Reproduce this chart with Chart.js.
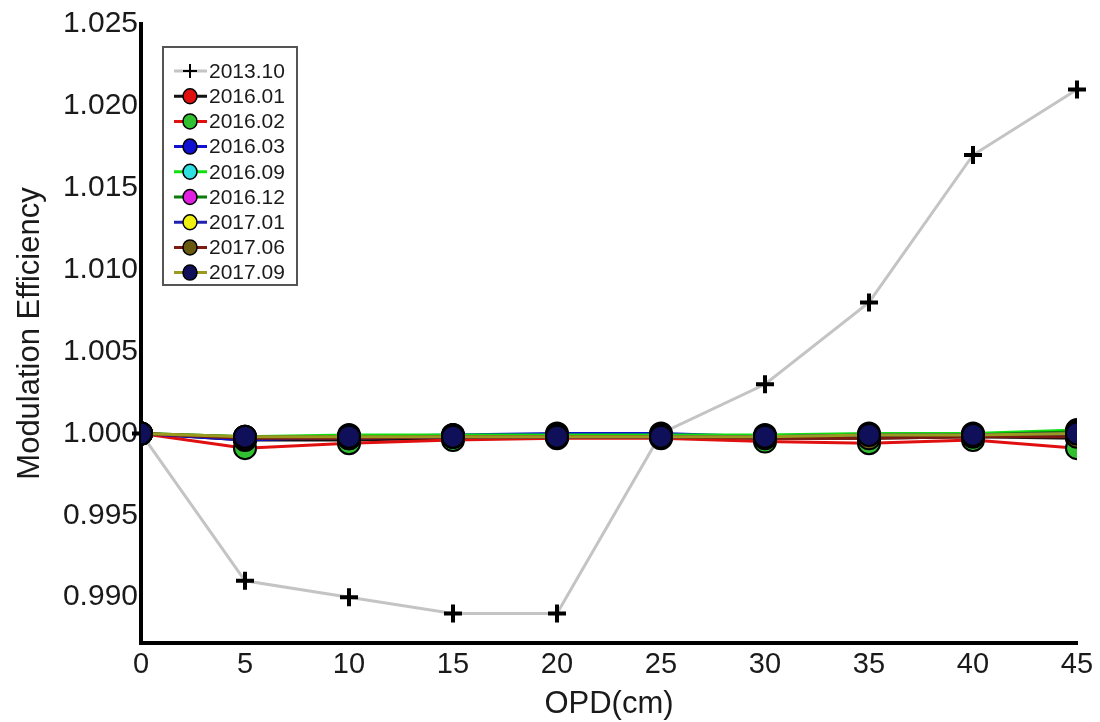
<!DOCTYPE html>
<html>
<head>
<meta charset="utf-8">
<script src="https://cdn.jsdelivr.net/npm/chart.js@4.4.1/dist/chart.umd.min.js"></script>
<style>
  body { margin: 0; background: #fff; }
  #wrap { width: 1100px; height: 722px; }
</style>
</head>
<body>
<div id="wrap"><canvas id="meChart" width="1100" height="722"></canvas></div>
<script>
// OPD positions (cm) and y tick labels
const opd = [0, 5, 10, 15, 20, 25, 30, 35, 40, 45];
const yTickValues = [0.990, 0.995, 1.000, 1.005, 1.010, 1.015, 1.020, 1.025];

const me201310 = [1.0000, 0.9910, 0.9900, 0.9890, 0.9890, 1.0000, 1.0030, 1.0080, 1.0170, 1.0210];
const me201601 = [1.0000, 0.9996, 0.9996, 0.9997, 0.9998, 0.9998, 0.9997, 0.9997, 0.9998, 0.9997];
const me201602 = [1.0000, 0.9991, 0.9994, 0.9996, 0.9997, 0.9997, 0.9995, 0.9994, 0.9996, 0.9991];
const me201603 = [1.0000, 0.9996, 0.9998, 0.9999, 1.0000, 1.0000, 0.9998, 0.9998, 0.9999, 0.9999];
const me201609 = [1.0000, 0.9998, 0.9999, 0.9999, 0.9999, 0.9999, 0.9999, 1.0000, 1.0000, 1.0002];
const me201612 = [1.0000, 0.9998, 0.9998, 0.9998, 0.9998, 0.9998, 0.9998, 0.9998, 0.9999, 1.0001];
const me201701 = [1.0000, 0.9997, 0.9997, 0.9998, 0.9998, 0.9998, 0.9998, 0.9999, 0.9999, 1.0000];
const me201706 = [1.0000, 0.9997, 0.9997, 0.9998, 0.9998, 0.9998, 0.9997, 0.9997, 0.9998, 0.9998];
const me201709 = [1.0000, 0.9998, 0.9998, 0.9998, 0.9998, 0.9998, 0.9998, 0.9999, 0.9999, 1.0000];

const seriesNames = ['2013.10', '2016.01', '2016.02', '2016.03', '2016.09', '2016.12', '2017.01', '2017.06', '2017.09'];
const seriesValues = [me201310, me201601, me201602, me201603, me201609, me201612, me201701, me201706, me201709];

// styles: line colour and marker fill for each series
const lineColors = ['#c4c4c4', '#111111', '#e01010', '#1010d0', '#10e010', '#0a7a0a', '#2020b0', '#7a1a10', '#9a9a20'];
const markerColors = ['#000000', '#e01010', '#30c030', '#1010d0', '#30e0e0', '#e020e0', '#f0f010', '#6a5a10', '#10105a'];

const FONT = '"Liberation Sans", Arial, sans-serif';
const TEXT = '#1a1a1a';

const datasets = seriesNames.map((name, i) => {
    const isRef = i === 0;
    return {
        label: name,
        data: seriesValues[i],
        borderColor: lineColors[i],
        borderWidth: 3,
        pointStyle: isRef ? 'cross' : 'circle',
        pointRadius: isRef ? 9 : 11,
        pointBackgroundColor: markerColors[i],
        pointBorderColor: '#000',
        pointBorderWidth: isRef ? 4 : 2,
        tension: 0,
        fill: false,
        clip: isRef ? false : 0,
        order: seriesNames.length - i, // 2013.10 at the bottom, 2017.09 on top
    };
});

// legend box in the upper-left of the plot: line segment + marker + label
const boxLegend = {
    id: 'boxLegend',
    afterDraw(chart) {
        const ctx = chart.ctx;
        const x0 = 163, y0 = 47, w = 134, h = 238, step = 25.2;
        ctx.save();
        ctx.fillStyle = '#fff';
        ctx.fillRect(x0, y0, w, h);
        ctx.strokeStyle = '#555';
        ctx.lineWidth = 2;
        ctx.strokeRect(x0, y0, w, h);
        chart.data.datasets.forEach((ds, i) => {
            const cy = y0 + 24 + i * step;
            ctx.strokeStyle = ds.borderColor;
            ctx.lineWidth = 3;
            ctx.beginPath();
            ctx.moveTo(174, cy);
            ctx.lineTo(207, cy);
            ctx.stroke();
            ctx.strokeStyle = '#000';
            if (ds.pointStyle === 'cross') {
                ctx.lineWidth = 2;
                ctx.beginPath();
                ctx.moveTo(183, cy); ctx.lineTo(197, cy);
                ctx.moveTo(190, cy - 7); ctx.lineTo(190, cy + 7);
                ctx.stroke();
            } else {
                ctx.fillStyle = ds.pointBackgroundColor;
                ctx.lineWidth = 1.5;
                ctx.beginPath();
                ctx.ellipse(190, cy, 7, 7.5, 0, 0, Math.PI * 2);
                ctx.fill();
                ctx.stroke();
            }
            ctx.fillStyle = TEXT;
            ctx.font = '21px ' + FONT;
            ctx.textBaseline = 'middle';
            ctx.textAlign = 'left';
            ctx.fillText(ds.label, 209, cy + 1);
        });
        ctx.restore();
    }
};

new Chart(document.getElementById('meChart'), {
    type: 'line',
    data: { labels: opd, datasets: datasets },
    options: {
        responsive: false,
        animation: false,
        layout: { padding: { top: 24, right: 23, left: 0, bottom: 0 } },
        plugins: {
            legend: { display: false },
            tooltip: { enabled: false },
        },
        scales: {
            x: {
                offset: false,
                grid: { display: false, drawTicks: false },
                border: { display: true, color: '#000', width: 4 },
                ticks: { color: TEXT, font: { family: FONT, size: 29 }, padding: 5, maxRotation: 0, autoSkip: false },
                title: { display: true, text: 'OPD(cm)', color: TEXT, font: { family: FONT, size: 31, lineHeight: 1.1 }, padding: { top: 0, bottom: 0 } },
                afterFit(scale) { scale.height = 79; },
            },
            y: {
                min: 0.9872,
                max: 1.025,
                grid: { display: false, drawTicks: false },
                border: { display: true, color: '#000', width: 4 },
                ticks: {
                    color: TEXT,
                    font: { family: FONT, size: 30 },
                    padding: 3,
                    callback: v => Number(v).toFixed(3),
                },
                afterBuildTicks(scale) { scale.ticks = yTickValues.map(v => ({ value: v })); },
                title: { display: true, text: 'Modulation Efficiency', color: TEXT, font: { family: FONT, size: 31, lineHeight: 1.2 }, padding: { top: 12, bottom: 0 } },
                afterFit(scale) { scale.width = 141; },
            },
        },
    },
    plugins: [boxLegend],
});
</script>
</body>
</html>
